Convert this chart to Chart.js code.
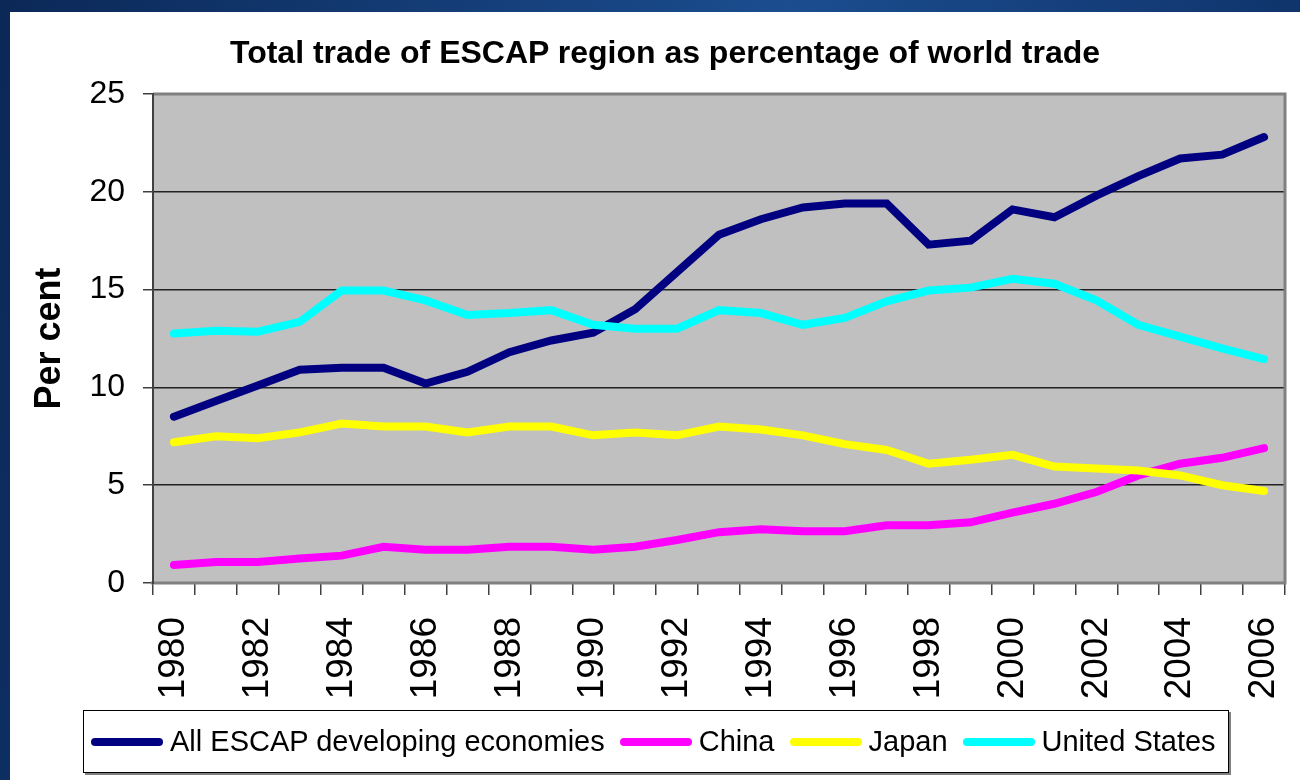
<!DOCTYPE html>
<html>
<head>
<meta charset="utf-8">
<title>Total trade of ESCAP region</title>
<script src="https://cdn.jsdelivr.net/npm/chart.js@4"></script>
<style>
    html, body { margin: 0; padding: 0; }
    body {
        width: 1300px; height: 780px; overflow: hidden; position: relative;
        background: linear-gradient(100deg, #0b2857 0%, #1b4d8f 55%, #0d2e63 100%);
        font-family: 'Liberation Sans', Arial, sans-serif;
    }
    #panel { position: absolute; left: 10px; top: 12px; right: 0; bottom: 0; background: #fff; }
    #chart { position: absolute; left: 0; top: 0; }
    #title {
        position: absolute; left: 665px; top: 36px; transform: translateX(-50%);
        font-size: 32px; font-weight: bold; line-height: 1; white-space: nowrap; color: #000;
    }
    #legend {
        position: absolute; left: 83px; top: 710px; width: 1146px; height: 63px;
        border: 1px solid #000; box-shadow: 2px 2px 0 #808080; background: #fff;
        display: flex; align-items: center; padding-left: 7px; box-sizing: border-box;
    }
    .item { display: flex; align-items: center; margin-right: 15px; }
    .swatch { width: 72px; height: 8px; border-radius: 4px; margin-right: 7px; }
    .label { font-size: 29px; color: #000; white-space: nowrap; }
</style>
</head>
<body>
<div id="panel"></div>
<canvas id="chart" width="1300" height="780"></canvas>
<div id="title">Total trade of ESCAP region as percentage of world trade</div>
<div id="legend"></div>

<script>
// Data (persen dari perdagangan dunia)
const years = ['1980', '1981', '1982', '1983', '1984', '1985', '1986', '1987', '1988', '1989',
    '1990', '1991', '1992', '1993', '1994', '1995', '1996', '1997', '1998', '1999',
    '2000', '2001', '2002', '2003', '2004', '2005', '2006'];

const escapValues = [8.5, 9.3, 10.1, 10.9, 11.0, 11.0, 10.2, 10.8, 11.8, 12.4,
    12.8, 14.0, 15.9, 17.8, 18.6, 19.2, 19.4, 19.4, 17.3, 17.5,
    19.1, 18.7, 19.8, 20.8, 21.7, 21.9, 22.8];

const chinaValues = [0.92, 1.07, 1.07, 1.25, 1.4, 1.85, 1.7, 1.7, 1.85, 1.85,
    1.7, 1.85, 2.2, 2.6, 2.75, 2.65, 2.65, 2.95, 2.95, 3.1,
    3.6, 4.05, 4.65, 5.5, 6.1, 6.4, 6.9];

const japanValues = [7.2, 7.5, 7.4, 7.7, 8.15, 8.0, 8.0, 7.7, 8.0, 8.0,
    7.55, 7.7, 7.55, 8.0, 7.85, 7.55, 7.1, 6.8, 6.1, 6.3,
    6.55, 5.95, 5.85, 5.75, 5.5, 5.0, 4.7];

const usValues = [12.75, 12.9, 12.85, 13.35, 14.95, 14.95, 14.45, 13.7, 13.8, 13.95,
    13.2, 13.0, 13.0, 13.95, 13.8, 13.2, 13.55, 14.4, 14.95, 15.1,
    15.55, 15.3, 14.45, 13.2, 12.6, 12.0, 11.45];

const seriesNames = ['All ESCAP developing economies', 'China', 'Japan', 'United States'];
const seriesColors = ['#000080', '#ff00ff', '#ffff00', '#00ffff'];
const yTicks = [0, 5, 10, 15, 20, 25];

document.addEventListener('DOMContentLoaded', () => {
    buildLegend();
    buildChart();
});

/**
 * Legenda dibuat sebagai HTML supaya bisa diberi kotak seperti aslinya.
 */
function buildLegend() {
    const legend = document.getElementById('legend');
    seriesNames.forEach((name, i) => {
        const item = document.createElement('div');
        item.className = 'item';
        item.innerHTML = '<span class="swatch" style="background:' + seriesColors[i] + '"></span>' +
            '<span class="label">' + name + '</span>';
        legend.appendChild(item);
    });
}

function buildChart() {
    const ctx = document.getElementById('chart').getContext('2d');
    Chart.defaults.font.family = "'Liberation Sans', Arial, sans-serif";
    Chart.defaults.color = '#000';

    // Latar abu-abu dan bingkai area plot
    const plotArea = {
        id: 'plotArea',
        beforeDraw(chart) {
            const a = chart.chartArea;
            const c = chart.ctx;
            c.save();
            c.fillStyle = '#c0c0c0';
            c.fillRect(a.left, a.top, a.right - a.left, a.bottom - a.top);
            c.restore();
        },
        beforeDatasetsDraw(chart) {
            const a = chart.chartArea;
            const c = chart.ctx;
            c.save();
            c.strokeStyle = '#808080';
            c.lineWidth = 3;
            c.beginPath();
            c.moveTo(a.left, a.top);
            c.lineTo(a.right, a.top);
            c.lineTo(a.right, a.bottom);
            c.lineTo(a.left - 2, a.bottom);
            c.stroke();
            c.strokeStyle = '#404040';
            c.lineWidth = 2;
            c.beginPath();
            c.moveTo(a.left, a.top - 1);
            c.lineTo(a.left, a.bottom + 1);
            c.stroke();
            c.restore();
        }
    };

    const datasets = [escapValues, chinaValues, japanValues, usValues].map((values, i) => ({
        label: seriesNames[i],
        data: values,
        borderColor: seriesColors[i],
        backgroundColor: seriesColors[i],
        borderWidth: 8,
        borderCapStyle: 'round',
        borderJoinStyle: 'miter',
        pointRadius: 0,
        tension: 0,
        order: 4 - i
    }));

    new Chart(ctx, {
        type: 'line',
        data: { labels: years, datasets: datasets },
        options: {
            responsive: false,
            animation: false,
            devicePixelRatio: 1,
            layout: { padding: { left: 0, top: 94, right: 15, bottom: 0 } },
            plugins: {
                legend: { display: false },
                tooltip: { enabled: false },
                title: { display: false }
            },
            scales: {
                x: {
                    offset: true,
                    grid: {
                        offset: true,
                        drawOnChartArea: false,
                        drawTicks: true,
                        tickLength: 12,
                        tickColor: '#404040',
                        lineWidth: 1.5
                    },
                    border: { display: false },
                    ticks: {
                        autoSkip: false,
                        minRotation: 90,
                        maxRotation: 90,
                        padding: 22,
                        font: { size: 37 },
                        callback: (value, index) => index % 2 === 0 ? years[index] : ''
                    },
                    afterFit: (scale) => {
                        scale.height = 197;
                        scale.paddingLeft = 0;
                        scale.paddingRight = 0;
                    }
                },
                y: {
                    min: 0,
                    max: 25,
                    afterBuildTicks: (scale) => { scale.ticks = yTicks.map(v => ({ value: v })); },
                    grid: {
                        color: '#222',
                        lineWidth: 1.5,
                        tickLength: 10,
                        tickColor: '#404040'
                    },
                    border: { display: false },
                    ticks: { padding: 18, font: { size: 32 } },
                    title: {
                        display: true,
                        text: 'Per cent',
                        font: { size: 36, weight: 'bold' },
                        padding: { top: 28, bottom: 0 }
                    },
                    afterFit: (scale) => {
                        scale.width = 153;
                        scale.paddingTop = 0;
                        scale.paddingBottom = 0;
                    }
                }
            }
        },
        plugins: [plotArea]
    });
}
</script>
</body>
</html>
